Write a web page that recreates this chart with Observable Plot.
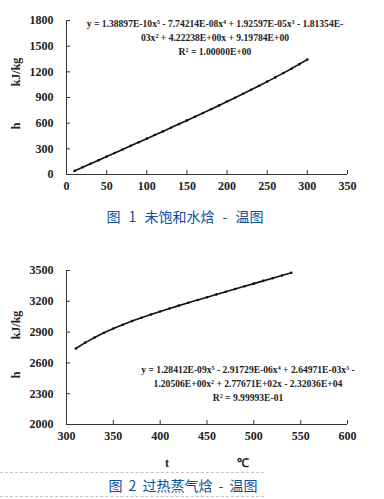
<!DOCTYPE html>
<html><head><meta charset="utf-8">
<script src="https://cdn.jsdelivr.net/npm/d3@7"></script>
<script src="https://cdn.jsdelivr.net/npm/@observablehq/plot@0.6"></script>
<style>
html,body{margin:0;padding:0;background:#fff;}
#wrap{position:relative;width:384px;height:499px;overflow:hidden;}
.chart{position:absolute;left:0;}
.cap{position:absolute;font-family:"Noto Sans CJK SC",sans-serif;font-size:14px;color:#0b4ea2;white-space:pre;transform:translate(-50%,-50%);line-height:1;}
.dash{position:absolute;left:0;width:264px;border-top:1px dashed #c4c4c4;height:0;}
</style></head>
<body><div id="wrap"></div>
<script>
// Chart 1: unsaturated (compressed) water enthalpy vs temperature
const t1 = [10,20,30,40,50,60,70,80,90,100,110,120,130,140,150,160,170,180,190,200,210,220,230,240,250,260,270,280,290,300];
const h1 = [42,84,126,167.5,209.3,251.1,293,334.9,376.9,419,461.3,503.7,546.3,589.1,632.2,675.5,719.2,763.2,807.6,852.4,897.7,943.6,990.1,1037.5,1085.8,1135,1185.3,1236.8,1290,1344];
const x1Ticks = [0,50,100,150,200,250,300,350];
const y1Ticks = [0,300,600,900,1200,1500,1800];
const eq1 = [
  [["y = 1.38897E-10x",""],["5","sup"],[" - 7.74214E-08x",""],["4","sup"],[" + 1.92597E-05x",""],["3","sup"],[" - 1.81354E-",""]],
  [["03x",""],["2","sup"],[" + 4.22238E+00x + 9.19784E+00",""]],
  [["R",""],["2","sup"],[" = 1.00000E+00",""]]
];
const caption1 = "图 1 未饱和水焓 - 温图";

// Chart 2: superheated steam enthalpy vs temperature
const t2 = [310,320,330,340,350,360,370,380,390,400,410,420,430,440,450,460,470,480,490,500,510,520,530,540];
const h2 = [2740,2797,2848,2894,2935,2972,3007,3040,3071,3101,3130,3158,3186,3213,3240,3267,3293,3320,3346,3372,3399,3425,3451,3478];
const x2Ticks = [300,350,400,450,500,550,600];
const y2Ticks = [2000,2300,2600,2900,3200,3500];
const eq2 = [
  [["y = 1.28412E-09x",""],["5","sup"],[" - 2.91729E-06x",""],["4","sup"],[" + 2.64971E-03x",""],["3","sup"],[" -",""]],
  [["1.20506E+00x",""],["2","sup"],[" + 2.77671E+02x - 2.32036E+04",""]],
  [["R",""],["2","sup"],[" = 9.99993E-01",""]]
];
const caption2 = "图 2 过热蒸气焓 - 温图";
const yLabel = ["h","kJ/kg"];
const xLabel = ["t","℃"];

const wrap = document.getElementById("wrap");
const W = 384, mL = 66, mR = 37;
const frameW = W - mL - mR;
const SERIF = "'Liberation Serif','Times New Roman',serif";

function makeChart({t,h,xTicks,yTicks,xDom,yDom,height,mT,mB}) {
  const frameH = height - mT - mB;
  const data = t.map((d,i)=>({t:d,h:h[i]}));
  const svg = Plot.plot({
    width: W, height, marginLeft: mL, marginRight: mR, marginTop: mT, marginBottom: mB,
    style: {background:"transparent", overflow:"visible"},
    x: {domain: xDom, ticks: xTicks},
    y: {domain: yDom, ticks: yTicks},
    marks: [
      Plot.gridX(xTicks, {stroke:"#333", strokeOpacity:1, insetTop: frameH-4}),
      Plot.gridY(yTicks, {stroke:"#333", strokeOpacity:1, insetRight: frameW-4}),
      Plot.ruleX([xDom[0]], {stroke:"#333"}),
      Plot.ruleY([yDom[0]], {stroke:"#333"}),
      Plot.axisX(xTicks, {tickSize:0, tickPadding:7, label:null, tickFormat: d => String(d)}),
      Plot.axisY(yTicks, {tickSize:0, tickPadding:13, label:null, tickFormat: d => String(d)}),
      Plot.line(data, {x:"t", y:"h", stroke:"#111", strokeWidth:1.6}),
      Plot.dot(data, {x:"t", y:"h", r:1.3, fill:"#111"})
    ]
  });
  d3.select(svg).selectAll("text")
    .style("font-family", SERIF).style("font-weight","bold").style("font-size","12px").style("fill","#222");
  return svg;
}

function addEq(svg, lines, cx, baselines) {
  const g = d3.select(svg).append("g")
    .attr("font-family", SERIF)
    .attr("font-weight","bold").attr("font-size","9.6px").attr("fill","#222");
  lines.forEach((parts,i)=>{
    const tx = g.append("text").attr("x",cx).attr("y",baselines[i]).attr("text-anchor","middle");
    parts.forEach(([s,k])=>{
      const sp = tx.append("tspan").text(s);
      if (k==="sup") sp.attr("baseline-shift","super").attr("font-size","6px");
    });
  });
}
function addYLabel(svg, x, yH, yK) {
  const g = d3.select(svg).append("g")
    .attr("font-family", SERIF)
    .attr("font-weight","bold").attr("font-size","12px").attr("fill","#222");
  g.append("text").attr("transform",`translate(${x},${yH}) rotate(-90)`).attr("text-anchor","middle").attr("dy","0.35em").text(yLabel[0]);
  g.append("text").attr("transform",`translate(${x},${yK}) rotate(-90)`).attr("text-anchor","middle").attr("dy","0.35em").text(yLabel[1]);
}

// Chart 1
const c1 = makeChart({t:t1,h:h1,xTicks:x1Ticks,yTicks:y1Ticks,xDom:[0,350],yDom:[0,1800],height:200,mT:20,mB:26});
c1.classList.add("chart"); c1.style.top = "0px";
wrap.appendChild(c1);
addEq(c1, eq1, 215, [27,41,55]);
addYLabel(c1, 16, 126, 72);

const cap1 = document.createElement("div");
cap1.className = "cap"; cap1.textContent = caption1;
cap1.style.wordSpacing = "5px";
cap1.style.left = "185px"; cap1.style.top = "216px";
wrap.appendChild(cap1);

// Chart 2
const top2 = 250;
const c2 = makeChart({t:t2,h:h2,xTicks:x2Ticks,yTicks:y2Ticks,xDom:[300,600],yDom:[2000,3500],height:220,mT:20,mB:46});
c2.classList.add("chart"); c2.style.top = top2 + "px";
wrap.appendChild(c2);
addEq(c2, eq2, 248, [373-top2,387-top2,401-top2]);
addYLabel(c2, 16, 375-top2, 325-top2);
{
  const g = d3.select(c2).append("g")
    .attr("font-family", SERIF)
    .attr("font-weight","bold").attr("font-size","12px").attr("fill","#222");
  g.append("text").attr("x",167).attr("y",463-top2).attr("dy","0.35em").attr("text-anchor","middle").text(xLabel[0]);
  g.append("text").attr("x",243).attr("y",463-top2).attr("dy","0.35em").attr("text-anchor","middle").text(xLabel[1]);
}

const d1 = document.createElement("div"); d1.className="dash"; d1.style.top="472px"; wrap.appendChild(d1);
const d2 = document.createElement("div"); d2.className="dash"; d2.style.top="496px"; wrap.appendChild(d2);
const cap2 = document.createElement("div");
cap2.className = "cap"; cap2.textContent = caption2;
cap2.style.wordSpacing = "3px";
cap2.style.left = "183px"; cap2.style.top = "485px";
wrap.appendChild(cap2);
</script></body></html>
